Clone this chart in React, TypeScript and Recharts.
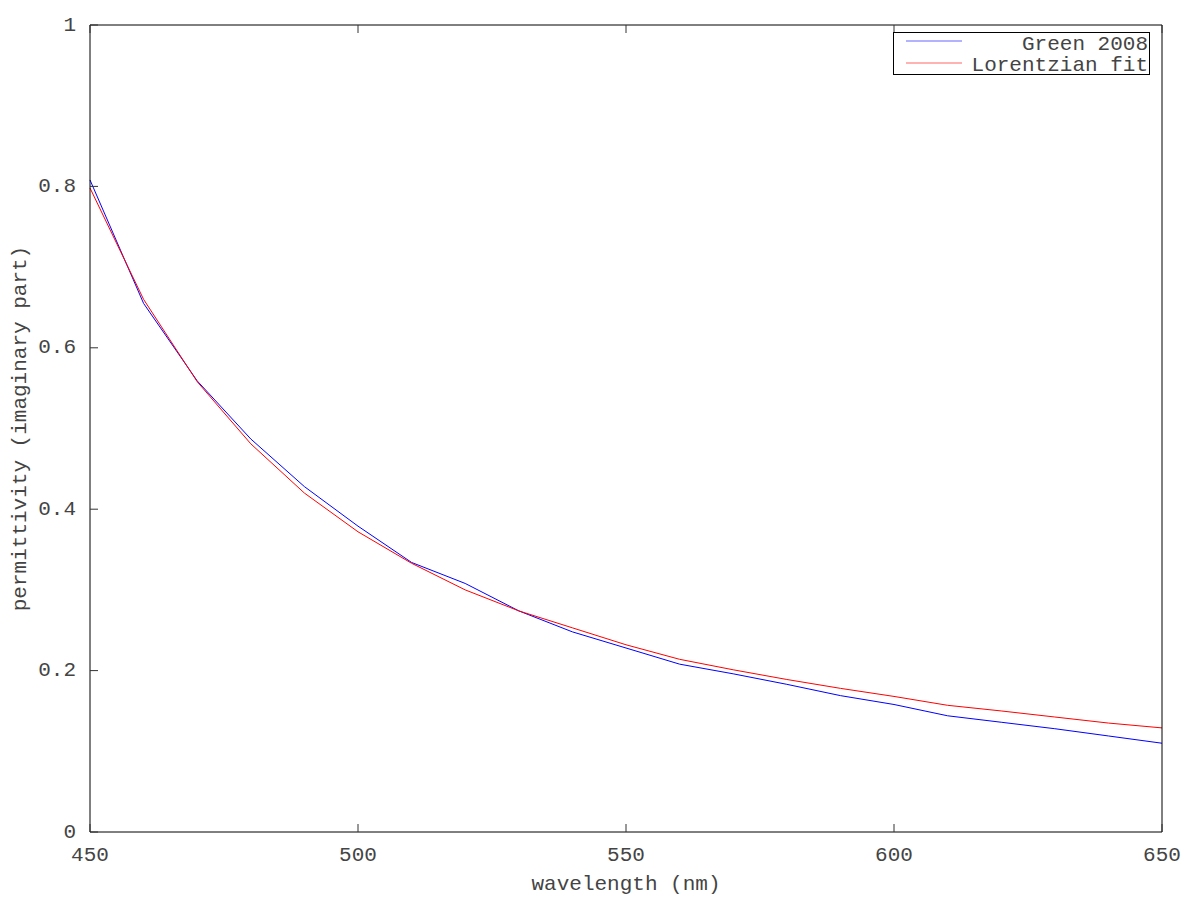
import { LineChart, Line, XAxis, YAxis, Label } from "recharts";

// wavelength samples (nm)
const wavelengths = [450, 460, 470, 480, 490, 500, 510, 520, 530, 540, 550, 560, 570, 580, 590, 600, 610, 620, 630, 640, 650];
// Green 2008 tabulated imaginary permittivity
const green2008 = [0.808, 0.655, 0.559, 0.487, 0.428, 0.379, 0.334, 0.308, 0.274, 0.248, 0.228, 0.208, 0.196, 0.183, 0.169, 0.158, 0.144, 0.136, 0.128, 0.119, 0.110];
// Lorentzian fit evaluated at the same wavelengths
const lorentzFit = [0.798, 0.660, 0.558, 0.481, 0.420, 0.372, 0.333, 0.300, 0.274, 0.253, 0.232, 0.214, 0.201, 0.189, 0.178, 0.168, 0.157, 0.150, 0.1425, 0.135, 0.129];

const xTicks = [450, 500, 550, 600, 650];
const yTicks = [0, 0.2, 0.4, 0.6, 0.8, 1];

const FONT = "'Liberation Mono', 'DejaVu Sans Mono', monospace";
const FS = 21;
const TXT = "#444";
const TICK = "#333";
const TL = 8; // inward tick length

const BLUE = "#0000ff";
const RED = "#ff0000";

const rows = wavelengths.map((w, i) => ({ w, green: green2008[i], fit: lorentzFit[i] }));

// gnuplot-style ticks: short marks pointing into the plot
const BottomTick = ({ x, y, payload }: any) => (
  <g>
    <line x1={x} x2={x} y1={y} y2={y - TL} stroke={TICK} />
    <text x={x} y={y + 29} textAnchor="middle" fontFamily={FONT} fontSize={FS} fill={TXT}>
      {payload.value}
    </text>
  </g>
);
const TopTick = ({ x, y }: any) => <line x1={x} x2={x} y1={y} y2={y + TL} stroke={TICK} />;
const LeftTick = ({ x, y, payload }: any) => (
  <g>
    <line x1={x} x2={x + TL} y1={y} y2={y} stroke={TICK} />
    <text x={x - 14} y={y} textAnchor="end" dominantBaseline="central" fontFamily={FONT} fontSize={FS} fill={TXT}>
      {payload.value}
    </text>
  </g>
);
const RightTick = ({ x, y }: any) => <line x1={x} x2={x - TL} y1={y} y2={y} stroke={TICK} />;

const YTitle = (props: any) => {
  const vb = props.viewBox;
  const cy = vb.y + vb.height / 2;
  return (
    <text
      x={20}
      y={cy}
      transform={`rotate(-90, 20, ${cy})`}
      textAnchor="middle"
      dominantBaseline="central"
      fontFamily={FONT}
      fontSize={FS}
      fill={TXT}
    >
      permittivity (imaginary part)
    </text>
  );
};

const XTitle = (props: any) => {
  const vb = props.viewBox;
  const cx = vb.x + vb.width / 2;
  return (
    <text x={cx} y={890} textAnchor="middle" fontFamily={FONT} fontSize={FS} fill={TXT}>
      wavelength (nm)
    </text>
  );
};

// legend box drawn over the plot, top right as in the original
const LegendBox = () => (
  <svg width={258} height={50} style={{ position: "absolute", left: 893, top: 32, display: "block", overflow: "visible" }}>
    <rect x={0.5} y={0.5} width={256} height={42} fill="#fff" stroke="#000" strokeWidth={1} />
    <line x1={13} x2={69} y1={9} y2={9} stroke={BLUE} strokeWidth={1} opacity={0.6} />
    <text x={255} y={18} textAnchor="end" fontFamily={FONT} fontSize={FS} fill={TXT}>
      Green 2008
    </text>
    <line x1={13} x2={69} y1={31} y2={31} stroke={RED} strokeWidth={1} opacity={0.6} />
    <text x={255} y={39} textAnchor="end" fontFamily={FONT} fontSize={FS} fill={TXT}>
      Lorentzian fit
    </text>
  </svg>
);

export default function App() {
  return (
    <div style={{ position: "absolute", left: 0, top: 0, width: 1200, height: 900, background: "#fff" }}>
      <LineChart width={1200} height={900} data={rows} margin={{ top: 24, right: 37, bottom: 8, left: 0 }}>
        <XAxis
          dataKey="w"
          type="number"
          domain={[450, 650]}
          ticks={xTicks}
          height={60}
          tickSize={0}
          tickMargin={0}
          tickLine={false}
          tick={<BottomTick />}
          axisLine={{ stroke: "#000" }}
          label={<Label content={XTitle} />}
        />
        <XAxis
          xAxisId="top"
          orientation="top"
          dataKey="w"
          type="number"
          domain={[450, 650]}
          ticks={xTicks}
          height={1}
          tickSize={0}
          tickMargin={0}
          tickLine={false}
          tick={<TopTick />}
          axisLine={{ stroke: "#000" }}
        />
        <YAxis
          type="number"
          domain={[0, 1]}
          ticks={yTicks}
          width={90}
          tickSize={0}
          tickMargin={0}
          tickLine={false}
          tick={<LeftTick />}
          axisLine={{ stroke: "#000" }}
          label={<Label content={YTitle} />}
        />
        <YAxis
          yAxisId="right"
          orientation="right"
          type="number"
          domain={[0, 1]}
          ticks={yTicks}
          width={1}
          tickSize={0}
          tickMargin={0}
          tickLine={false}
          tick={<RightTick />}
          axisLine={{ stroke: "#000" }}
        />
        <Line
          type="linear"
          dataKey="green"
          name="Green 2008"
          stroke={BLUE}
          strokeWidth={1}
          dot={false}
          activeDot={false}
          isAnimationActive={false}
        />
        <Line
          type="linear"
          dataKey="fit"
          name="Lorentzian fit"
          stroke={RED}
          strokeWidth={1}
          dot={false}
          activeDot={false}
          isAnimationActive={false}
        />
      </LineChart>
      <LegendBox />
    </div>
  );
}
